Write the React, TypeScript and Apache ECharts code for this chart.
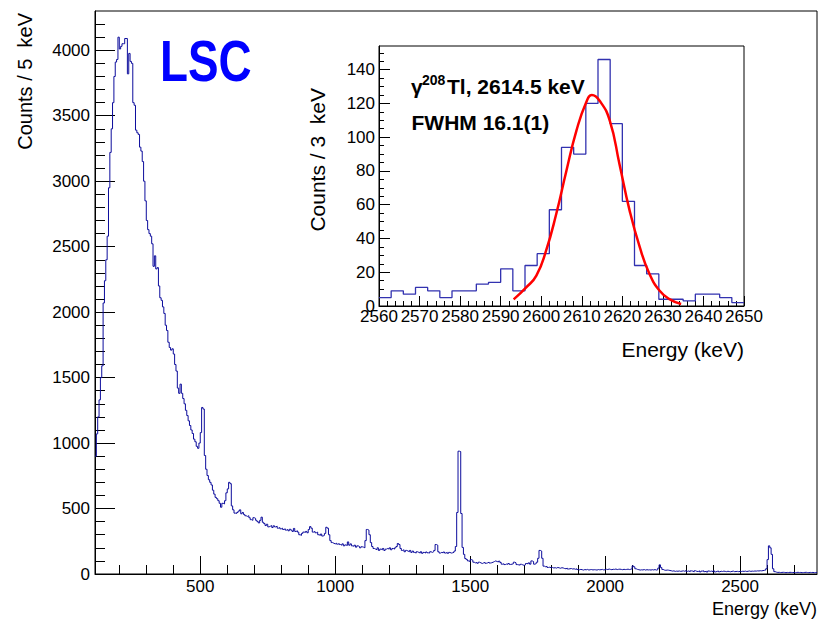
import React, { useEffect, useRef } from "react";
import * as echarts from "echarts";

// Main spectrum: 5 keV bins starting at 110 keV
const MAIN_START = 110;
const MAIN_BIN = 5;
const MAIN_MIN = 110;
const MAIN_MAX = 2785;
const mainCounts = [
  900, 1070, 1200, 1330, 1500, 1590, 2070, 2240, 2400, 2580,
  2950, 3220, 3400, 3600, 3800, 3910, 3930, 4100, 4010, 4030,
  4050, 4050, 4090, 4090, 3820, 3976, 3915, 3900, 3600, 3580,
  3390, 3370, 3357, 3260, 3230, 3150, 3000, 2850, 2700, 2630,
  2600, 2580, 2522, 2350, 2430, 2330, 2340, 2200, 2110, 2090,
  2040, 1990, 1900, 1860, 1770, 1730, 1710, 1720, 1680, 1600,
  1550, 1420, 1380, 1450, 1380, 1340, 1300, 1250, 1210, 1170,
  1134, 1100, 1073, 1030, 1010, 975, 960, 1000, 1080, 1272,
  1260, 905, 800, 752, 720, 700, 680, 640, 610, 585,
  575, 560, 540, 510, 540, 535, 560, 620, 650, 700,
  690, 520, 490, 465, 462, 470, 480, 490, 460, 470,
  455, 445, 440, 445, 430, 415, 410, 430, 425, 410,
  400, 390, 410, 434, 395, 385, 370, 380, 360, 365,
  370, 355, 368, 360, 365, 350, 355, 345, 350, 340,
  345, 335, 340, 330, 342, 335, 325, 348, 325, 330,
  320, 300, 295, 310, 320, 318, 325, 315, 340, 362,
  350, 320, 325, 315, 320, 300, 295, 305, 290, 295,
  310, 357, 350, 300, 255, 240, 235, 230, 235, 228,
  232, 225, 220, 230, 215, 222, 218, 245, 220, 230,
  215, 212, 220, 205, 215, 210, 200, 208, 205, 200,
  255, 340, 335, 300, 240, 210, 195, 190, 185, 200,
  180, 190, 185, 195, 180, 190, 195, 190, 200, 185,
  195, 190, 200, 210, 233, 225, 195, 180, 185, 170,
  180, 175, 170, 180, 165, 175, 165, 160, 170, 165,
  160, 170, 158, 165, 160, 168, 162, 160, 170, 165,
  170, 180, 225, 220, 170, 160, 165, 162, 168, 160,
  165, 158, 165, 160, 162, 165, 175, 210, 470, 938,
  935, 462, 203, 150, 118, 110, 100, 95, 110, 105,
  90, 85, 88, 82, 90, 85, 80, 85, 88, 82,
  85, 90, 84, 86, 90, 95, 100, 95, 92, 98,
  88, 75, 78, 72, 76, 74, 80, 73, 75, 78,
  90, 85, 72, 70, 68, 74, 70, 66, 70, 80,
  78, 85, 75, 100, 95, 75, 80, 90, 120, 180,
  175, 120, 60, 55, 58, 50, 52, 48, 50, 46,
  48, 45, 50, 47, 44, 48, 46, 42, 40, 44,
  38, 40, 42, 38, 40, 36, 40, 34, 32, 35,
  33, 30, 34, 32, 35, 30, 33, 34, 31, 33,
  32, 30, 34, 32, 33, 35, 31, 33, 36, 34,
  38, 35, 33, 36, 35, 38, 34, 36, 37, 35,
  33, 36, 34, 35, 37, 34, 36, 40, 62, 55,
  40, 35, 33, 30, 32, 31, 34, 30, 33, 31,
  32, 30, 33, 31, 34, 30, 32, 45, 70, 50,
  35, 30, 28, 30, 29, 27, 25, 22, 24, 20,
  22, 21, 23, 20, 22, 24, 21, 26, 20, 23,
  18, 24, 22, 17, 25, 20, 19, 24, 16, 22,
  25, 18, 21, 15, 23, 20, 22, 18, 24, 16,
  20, 23, 17, 21, 19, 22, 20, 18, 21, 19,
  17, 20, 22, 18, 19, 20, 18, 20, 19, 21,
  20, 22, 19, 21, 23, 20, 22, 21, 23, 22,
  24, 23, 25, 24, 26, 28, 30, 40, 110, 215,
  200, 150, 40, 18, 14, 12, 13, 11, 12, 13,
  12, 10, 12, 11, 13, 12, 11, 12, 10, 12,
  13, 11, 12, 10, 11, 12, 13, 11, 10, 12,
  11, 12, 10, 11, 12,
];
const mainXTicks = [500, 1000, 1500, 2000, 2500];
const mainYTicks = [0, 500, 1000, 1500, 2000, 2500, 3000, 3500, 4000];
const MAIN_YMAX = 4300;

// Inset: 208Tl peak, 3 keV bins starting at 2560 keV
const INSET_START = 2560;
const INSET_BIN = 3;
const insetCounts = [
  5, 9, 7, 11, 9, 5, 9, 9, 13, 14,
  22, 9, 24, 31, 57, 94, 90, 120, 146, 108,
  62, 24, 19, 4, 4, 3, 7, 7, 5, 2,
];
const fitEnergy = [2593.2, 2596.3, 2598.8, 2601.2, 2603.7, 2606.2, 2608.7, 2611.1, 2612.5, 2614.4, 2616.9, 2619.3, 2621.8, 2624.3, 2626.7, 2629.2, 2631.6, 2634.5];
const fitCounts = [3.9, 11, 18, 32.8, 54.5, 80, 104, 120.7, 125, 121.6, 109.8, 84, 56.5, 34.8, 19, 9, 4.1, 1.2];
const insetXTicks = [2560, 2570, 2580, 2590, 2600, 2610, 2620, 2630, 2640, 2650];
const insetYTicks = [0, 20, 40, 60, 80, 100, 120, 140];
const INSET_YMAX = 154;

const FONT = "'Liberation Sans', Arial, Helvetica, sans-serif";
const plain = (v: number) => String(v);

function stepData(start: number, width: number, counts: number[]) {
  const d: number[][] = counts.map((c, i) => [start + i * width, c]);
  d.push([start + counts.length * width, counts[counts.length - 1]]);
  return d;
}

function range(a: number, b: number, s: number) {
  const r: number[] = [];
  for (let v = a; v <= b + 1e-9; v += s) r.push(Math.round(v * 1000) / 1000);
  return r;
}

export default function App() {
  const ref = useRef<HTMLDivElement>(null);
  useEffect(() => {
    if (!ref.current) return;
    const chart = echarts.init(ref.current, null, { renderer: "svg" });
    const black = { color: "#000", width: 1 };
    const mainXMinor = range(200, 2700, 100);
    const mainYMinor = range(100, 4200, 100);
    const insetYMinor = range(5, 150, 5);
    const insetXMinor = range(2562, 2648, 2);

    const option: any = {
      animation: false,
      backgroundColor: "#fff",
      grid: [
        { left: 95, top: 11, width: 722, height: 563, show: true, borderColor: "#000", borderWidth: 1, backgroundColor: "transparent" },
        { left: 379, top: 46, width: 365, height: 260, show: true, borderColor: "#000", borderWidth: 1, backgroundColor: "#fff" },
      ],
      xAxis: [
        {
          gridIndex: 0, type: "value", min: MAIN_MIN, max: MAIN_MAX, position: "bottom",
          axisLine: { show: true, lineStyle: black },
          axisTick: { show: true, inside: true, length: 18, customValues: mainXTicks, lineStyle: black },
          axisLabel: { show: true, customValues: mainXTicks, formatter: plain, fontSize: 17, color: "#000", margin: 4, fontFamily: FONT },
          splitLine: { show: false },
        },
        {
          gridIndex: 0, type: "value", min: MAIN_MIN, max: MAIN_MAX, position: "bottom",
          axisLine: { show: false },
          axisTick: { show: true, inside: true, length: 9, customValues: mainXMinor, lineStyle: black },
          axisLabel: { show: false },
          splitLine: { show: false },
        },
        {
          gridIndex: 1, type: "value", min: 2560, max: 2650, position: "bottom",
          axisLine: { show: true, lineStyle: black },
          axisTick: { show: true, inside: true, length: 10, customValues: insetXTicks, lineStyle: black },
          axisLabel: { show: true, customValues: insetXTicks, formatter: plain, hideOverlap: false, fontSize: 17, color: "#000", margin: 2, fontFamily: FONT },
          splitLine: { show: false },
        },
        {
          gridIndex: 1, type: "value", min: 2560, max: 2650, position: "bottom",
          axisLine: { show: false },
          axisTick: { show: true, inside: true, length: 5, customValues: insetXMinor, lineStyle: black },
          axisLabel: { show: false },
          splitLine: { show: false },
        },
      ],
      yAxis: [
        {
          gridIndex: 0, type: "value", min: 0, max: MAIN_YMAX, position: "left",
          axisLine: { show: true, lineStyle: black },
          axisTick: { show: true, inside: true, length: 20, customValues: mainYTicks, lineStyle: black },
          axisLabel: { show: true, customValues: mainYTicks, formatter: plain, fontSize: 17, color: "#000", margin: 5, fontFamily: FONT },
          splitLine: { show: false },
        },
        {
          gridIndex: 0, type: "value", min: 0, max: MAIN_YMAX, position: "left",
          axisLine: { show: false },
          axisTick: { show: true, inside: true, length: 10, customValues: mainYMinor, lineStyle: black },
          axisLabel: { show: false },
          splitLine: { show: false },
        },
        {
          gridIndex: 1, type: "value", min: 0, max: INSET_YMAX, position: "left",
          axisLine: { show: true, lineStyle: black },
          axisTick: { show: true, inside: true, length: 11, customValues: insetYTicks, lineStyle: black },
          axisLabel: { show: true, customValues: insetYTicks, formatter: plain, fontSize: 17, color: "#000", margin: 4, fontFamily: FONT },
          splitLine: { show: false },
        },
        {
          gridIndex: 1, type: "value", min: 0, max: INSET_YMAX, position: "left",
          axisLine: { show: false },
          axisTick: { show: true, inside: true, length: 5, customValues: insetYMinor, lineStyle: black },
          axisLabel: { show: false },
          splitLine: { show: false },
        },
      ],
      series: [
        {
          type: "line", xAxisIndex: 0, yAxisIndex: 0, step: "end", showSymbol: false, silent: true,
          lineStyle: { color: "#0c0c9c", width: 1 },
          data: stepData(MAIN_START, MAIN_BIN, mainCounts),
        },
        {
          type: "line", xAxisIndex: 2, yAxisIndex: 2, step: "end", showSymbol: false, silent: true,
          lineStyle: { color: "#3232b0", width: 1.3 },
          data: stepData(INSET_START, INSET_BIN, insetCounts),
        },
        {
          type: "line", xAxisIndex: 2, yAxisIndex: 2, smooth: true, showSymbol: false, silent: true,
          lineStyle: { color: "#ff0000", width: 2.5 },
          data: fitEnergy.map((e, i) => [e, fitCounts[i]]),
        },
      ],
      graphic: [
        { type: "text", x: 160, y: 61, scaleX: 0.79, style: { text: "LSC", fontSize: 58, fontWeight: "bold", fill: "#0000ff", fontFamily: FONT, align: "left", verticalAlign: "middle" } },
        { type: "text", x: 24.5, y: 13, rotation: Math.PI / 2, style: { text: "Counts / 5  keV", fontSize: 20, fill: "#000", fontFamily: FONT, align: "right", verticalAlign: "middle" } },
        { type: "text", x: 817, y: 609, style: { text: "Energy (keV)", fontSize: 18, fill: "#000", fontFamily: FONT, align: "right", verticalAlign: "middle" } },
        { type: "text", x: 317, y: 88, rotation: Math.PI / 2, style: { text: "Counts / 3  keV", fontSize: 21, fill: "#000", fontFamily: FONT, align: "right", verticalAlign: "middle" } },
        { type: "text", x: 744, y: 349, style: { text: "Energy (keV)", fontSize: 21, fill: "#000", fontFamily: FONT, align: "right", verticalAlign: "middle" } },
        { type: "text", x: 411, y: 86, style: { text: "γ", fontSize: 21, fontWeight: "bold", fill: "#000", fontFamily: FONT, align: "left", verticalAlign: "middle" } },
        { type: "text", x: 422, y: 80, style: { text: "208", fontSize: 14, fontWeight: "bold", fill: "#000", fontFamily: FONT, align: "left", verticalAlign: "middle" } },
        { type: "text", x: 447, y: 86, style: { text: "Tl, 2614.5 keV", fontSize: 21, fontWeight: "bold", fill: "#000", fontFamily: FONT, align: "left", verticalAlign: "middle" } },
        { type: "text", x: 411.5, y: 122, style: { text: "FWHM 16.1(1)", fontSize: 21, fontWeight: "bold", fill: "#000", fontFamily: FONT, align: "left", verticalAlign: "middle" } },
      ],
    };
    chart.setOption(option);
    return () => chart.dispose();
  }, []);
  return <div ref={ref} style={{ position: "absolute", left: 0, top: 0, width: 819, height: 621 }} />;
}
